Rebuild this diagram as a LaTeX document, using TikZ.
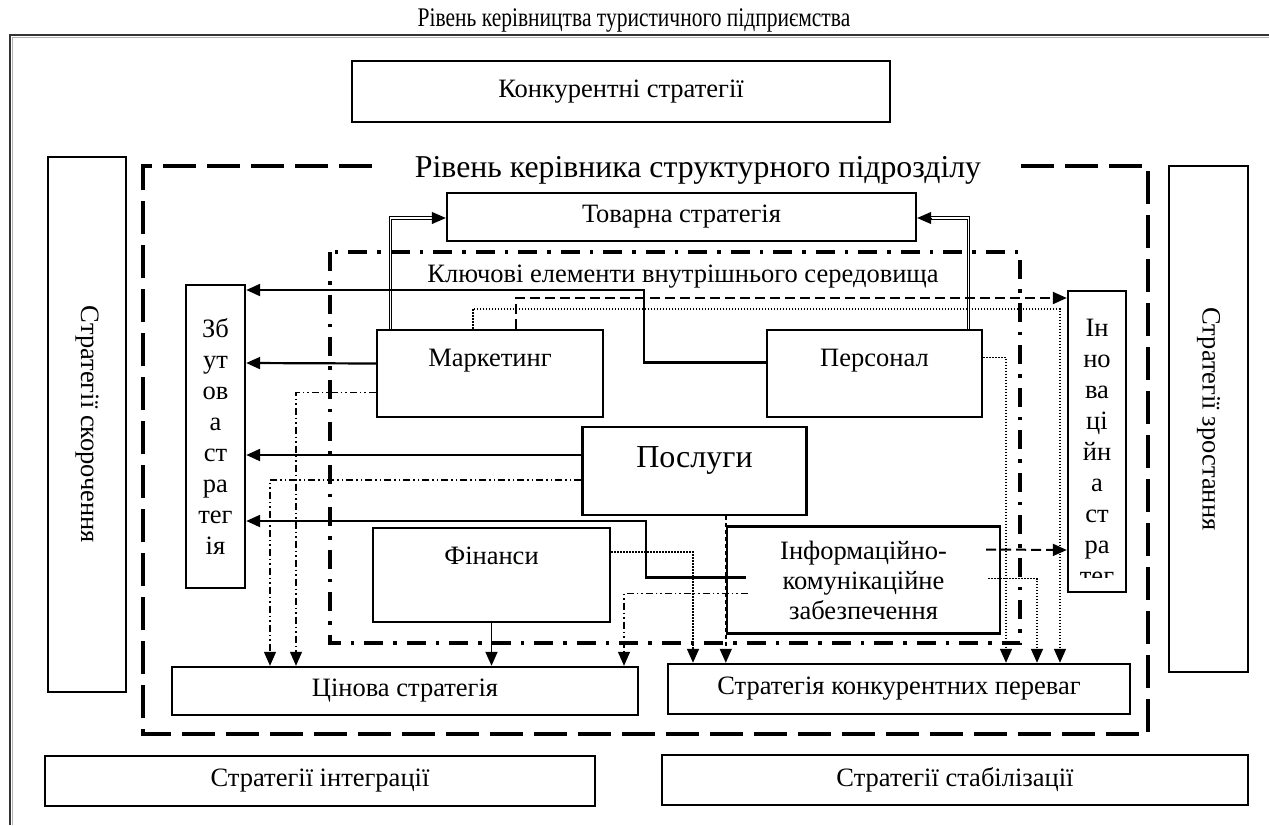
\documentclass[tikz,border=0pt]{standalone}
\usepackage{fontspec}
\setmainfont{Liberation Serif}
\usetikzlibrary{arrows.meta}
\tikzset{every node/.style={inner sep=0pt, align=center, font=\fontsize{26.5}{31}\selectfont},
  box/.style={draw, line width=2.4pt},
  arrtip/.style={-{Triangle[length=14pt,width=12pt]}},
  arr/.style={arrtip, line width=2.2pt},
  dbl/.style={draw=black, double=white, double distance=1.3pt, line width=0.9pt},
  dotl/.style={arrtip, line width=1.6pt, dash pattern=on 1.6pt off 1.4pt},
  ddot/.style={arrtip, line width=1.2pt, dash pattern=on 7pt off 3pt on 1.5pt off 3pt on 1.5pt off 3pt},
  dshl/.style={arrtip, line width=2pt, dash pattern=on 10pt off 5pt},
  dshs/.style={arrtip, line width=1.5pt, dash pattern=on 4pt off 3pt},
  lvlone/.style={line width=4pt, dash pattern=on 33pt off 11pt},
  lvltwo/.style={line width=3.5pt, dash pattern=on 19pt off 10pt on 3.5pt off 10pt}}

\begin{document}
\begin{tikzpicture}[x=1pt,y=-1pt]
  \useasboundingbox (0,0) rectangle (1269,825);
  \draw[line width=1.2pt, black!80] (10,825) -- (10,35) -- (1269,35);
  \draw[line width=1.5pt, gray!60] (12.5,825) -- (12.5,37.5) -- (1269,37.5);
  \node[font=\fontsize{21.5}{26}\selectfont] (head) at (634,21) {\scalebox{1}[1.25]{Рівень керівництва туристичного підприємства}};

  \node[inner xsep=40pt, font=\fontsize{31.8}{36}\selectfont] (lvlonet) at (698,170) {Рівень керівника структурного підрозділу};
  \draw[lvlone] (lvlonet.east |- 0,166) -| (1148,734) -| (143,166) -- (lvlonet.west |- 0,166);
  \draw[lvltwo] (330,252) rectangle (1020,643);
  \node (lvltwot) at (683,277) {Ключові елементи внутрішнього середовища};

  \node[box, minimum width=538pt, minimum height=61pt] (konk) at (621,91.5) {Конкурентні стратегії};
  \node[box, rotate=-90, minimum width=535pt, minimum height=78pt] (skor) at (87,424.5) {Стратегії скорочення};
  \node[box, rotate=-90, minimum width=506pt, minimum height=79pt] (zrost) at (1208.5,419) {Стратегії зростання};
  \node[box, minimum width=469pt, minimum height=48pt] (tovar) at (681.5,217) {Товарна стратегія};
  \node[box, minimum width=59pt, minimum height=303pt] (zbut) at (215.5,436.5) {Зб\\ут\\ов\\а\\ст\\ра\\тег\\ія};
  \node[box, minimum width=226pt, minimum height=87pt, text height=18pt, text depth=33pt] (mark) at (490,373.5) {Маркетинг};
  \node[box, minimum width=215pt, minimum height=87pt, text height=18pt, text depth=33pt] (pers) at (874.5,373.5) {Персонал};
  \node[box, minimum width=224pt, minimum height=88pt, text height=22pt, text depth=30pt, font=\fontsize{32}{38}\selectfont] (posl) at (694.5,471) {Послуги};
  \node[box, minimum width=237pt, minimum height=94pt, text height=18pt, text depth=40pt] (fin) at (491.5,575) {Фінанси};
  \node[box, minimum width=273pt, minimum height=107pt, font=\fontsize{26.5}{30}\selectfont] (info) at (863.5,580) {Інформаційно-\\комунікаційне\\забезпечення};
  \begin{scope}
    \clip (1068,291) rectangle (1126,577);
    \node[anchor=north] (innovt) at (1097,319) {Ін\\но\\ва\\ці\\йн\\а\\ст\\ра\\тег\\ія};
  \end{scope}
  \node[box, minimum width=58pt, minimum height=301pt] (innov) at (1097,441.5) {};
  \node[box, minimum width=466pt, minimum height=48pt] (cina) at (405,691) {Цінова стратегія};
  \node[box, minimum width=462pt, minimum height=50pt] (perev) at (899,689) {Стратегія конкурентних переваг};
  \node[box, minimum width=550pt, minimum height=50pt] (integ) at (320,781) {Стратегії інтеграції};
  \node[box, minimum width=586pt, minimum height=50pt] (stab) at (955,780) {Стратегії стабілізації};

  \coordinate (tl) at (tovar.west |- 0,218);
  \coordinate (tr) at (tovar.east |- 0,218);
  \draw[dbl] ([xshift=15pt]mark.north west) |- ([xshift=-12pt]tl);
  \draw[dbl] ([xshift=-15pt]pers.north east) |- ([xshift=12pt]tr);
  \draw[arr, line width=1pt] ([xshift=-14pt]tl) -- (tl);
  \draw[arr, line width=1pt] ([xshift=14pt]tr) -- (tr);

  \draw[arr] ([yshift=11pt]pers.west) -- ++(-122,0) |- (zbut.east |- 0,290);
  \foreach \n/\s/\y in {mark/10/363, posl/16/455}
    \draw[arr] ([yshift=\s pt]\n.west) -- (zbut.east |- 0,\y);
  \draw[arr] ([xshift=20pt,yshift=2.5pt]info.west) -- ++(-100,0) |- (zbut.east |- 0,521);

  \draw[ddot] ([yshift=-19pt]mark.west) -| (cina.north -| 296,0);
  \draw[ddot] ([yshift=-9pt]posl.west) -| (cina.north -| 270,0);
  \draw[ddot] ([xshift=22pt,yshift=-13.5pt]info.west) -| (cina.north -| 624,0);
  \draw[arr, line width=1.6pt] (fin.south) -- (fin.south |- cina.north);

  \draw[dotl] ([yshift=23pt]fin.east) -| (perev.north -| 693,0);
  \draw[dshs] (posl.south -| info.west) -- (info.west |- perev.north);
  \draw[dotl] ([yshift=16pt]pers.east) -| (perev.north -| 1006,0);
  \draw[dotl] ([xshift=-13pt,yshift=1.5pt]info.east) -| (perev.north -| 1037,0);
  \draw[dotl] ([xshift=97pt]mark.north west) -- ++(0,-20) -| (perev.north -| 1060,0);

  \draw[dshl] ([xshift=140pt]mark.north west) |- (innov.west |- 0,298);
  \draw[dshl] ([xshift=-15pt,yshift=30.5pt]info.east) -- (innov.west |- 0,550);
\end{tikzpicture}
\end{document}
